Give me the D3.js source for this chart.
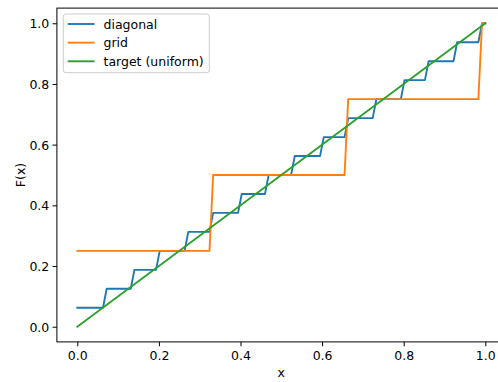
<!DOCTYPE html>
<html>
<head>
<meta charset="utf-8">
<script src="https://cdn.jsdelivr.net/npm/d3@7"></script>
<style>
  html, body { margin: 0; padding: 0; background: #fff; }
  svg { display: block; font-family: "DejaVu Sans", sans-serif; }
</style>
</head>
<body>
<svg id="chart" width="498" height="382"></svg>
<script>
// Empirical CDF curves, stored as the vertices of each plotted polyline
const diagonalX = [0, 0.063, 0.072, 0.131, 0.140, 0.193, 0.202, 0.263, 0.272, 0.324, 0.333,
  0.394, 0.403, 0.460, 0.469, 0.524, 0.533, 0.595, 0.604, 0.655, 0.664, 0.724, 0.733,
  0.793, 0.802, 0.852, 0.861, 0.922, 0.931, 0.983, 0.992, 1.0];
const diagonalF = [0.0625, 0.0625, 0.125, 0.125, 0.1875, 0.1875, 0.25, 0.25, 0.3125, 0.3125, 0.375,
  0.375, 0.4375, 0.4375, 0.5, 0.5, 0.5625, 0.5625, 0.625, 0.625, 0.6875, 0.6875, 0.75,
  0.75, 0.8125, 0.8125, 0.875, 0.875, 0.9375, 0.9375, 1.0, 1.0];

const gridX = [0, 0.324, 0.333, 0.655, 0.664, 0.983, 0.992, 1.0];
const gridF = [0.25, 0.25, 0.5, 0.5, 0.75, 0.75, 1.0, 1.0];

const targetX = [0, 1];
const targetF = [0, 1];

const seriesNames = ["diagonal", "grid", "target (uniform)"];
const seriesColors = ["#1f77b4", "#ff7f0e", "#2ca02c"];

const xTicks = [0.0, 0.2, 0.4, 0.6, 0.8, 1.0];
const yTicks = [0.0, 0.2, 0.4, 0.6, 0.8, 1.0];
const xDomain = [-0.05, 1.05];
const yDomain = [-0.05, 1.05];

(function draw() {
  const svg = d3.select("#chart");
  const FS = 12.5;          // 10pt at 90 dpi
  const LW = 1.875;         // 1.5pt line width
  const AXW = 1.0;          // 0.8pt spine width
  const TICK = 4.375;       // 3.5pt tick length

  // Axes box in pixels
  const boxL = 56.9, boxR = 505.7, boxT = 8.1, boxB = 341.9;

  const x = d3.scaleLinear().domain(xDomain).range([boxL, boxR]);
  const y = d3.scaleLinear().domain(yDomain).range([boxB, boxT]);

  const series = [
    { name: seriesNames[0], color: seriesColors[0], xs: diagonalX, ys: diagonalF },
    { name: seriesNames[1], color: seriesColors[1], xs: gridX, ys: gridF },
    { name: seriesNames[2], color: seriesColors[2], xs: targetX, ys: targetF }
  ];

  const line = d3.line().x(d => x(d[0])).y(d => y(d[1]));

  const plot = svg.append("g");
  series.forEach(s => {
    plot.append("path")
      .datum(s.xs.map((v, i) => [v, s.ys[i]]))
      .attr("d", line)
      .attr("fill", "none")
      .attr("stroke", s.color)
      .attr("stroke-width", LW)
      .attr("stroke-linejoin", "round")
      .attr("stroke-linecap", "square");
  });

  // Spines
  svg.append("rect")
    .attr("x", boxL).attr("y", boxT)
    .attr("width", boxR - boxL).attr("height", boxB - boxT)
    .attr("fill", "none").attr("stroke", "#000").attr("stroke-width", AXW);

  // Axes with outward ticks
  const xAxis = d3.axisBottom(x).tickValues(xTicks).tickFormat(d3.format(".1f"))
    .tickSizeInner(TICK).tickSizeOuter(0).tickPadding(4.4);
  const gx = svg.append("g").attr("transform", `translate(0,${boxB})`).call(xAxis);
  gx.select(".domain").remove();
  gx.selectAll(".tick line").attr("stroke", "#000").attr("stroke-width", AXW);
  gx.selectAll(".tick text")
    .attr("fill", "#000").attr("font-size", FS)
    .attr("font-family", "DejaVu Sans, sans-serif")
    .attr("dy", null).attr("y", 18.6);

  const yAxis = d3.axisLeft(y).tickValues(yTicks).tickFormat(d3.format(".1f"))
    .tickSizeInner(TICK).tickSizeOuter(0).tickPadding(4.4);
  const gy = svg.append("g").attr("transform", `translate(${boxL},0)`).call(yAxis);
  gy.select(".domain").remove();
  gy.selectAll(".tick line").attr("stroke", "#000").attr("stroke-width", AXW);
  gy.selectAll(".tick text")
    .attr("fill", "#000").attr("font-size", FS)
    .attr("font-family", "DejaVu Sans, sans-serif")
    .attr("dy", null).attr("y", 4.55).attr("x", -7.6);

  // Axis labels
  svg.append("text")
    .attr("x", (boxL + boxR) / 2).attr("y", 376.5)
    .attr("text-anchor", "middle").attr("font-size", FS).attr("fill", "#000")
    .text("x");
  svg.append("text")
    .attr("transform", `translate(24.8,${(boxT + boxB) / 2}) rotate(-90)`)
    .attr("text-anchor", "middle").attr("font-size", FS).attr("fill", "#000")
    .text("F(x)");

  // Legend
  const legend = svg.append("g");
  legend.append("rect")
    .attr("x", 63.3).attr("y", 14).attr("width", 146).attr("height", 58.7)
    .attr("rx", 2.5).attr("ry", 2.5)
    .attr("fill", "#fff").attr("fill-opacity", 0.8)
    .attr("stroke", "#cccccc").attr("stroke-width", AXW);
  series.forEach((s, i) => {
    const cy = 24 + i * 18.65;
    legend.append("line")
      .attr("x1", 67.7).attr("x2", 94.5).attr("y1", cy).attr("y2", cy)
      .attr("stroke", s.color).attr("stroke-width", LW);
    legend.append("text")
      .attr("x", 103.5).attr("y", cy + 4.55)
      .attr("font-size", FS).attr("fill", "#000")
      .text(s.name);
  });
})();
</script>
</body>
</html>
